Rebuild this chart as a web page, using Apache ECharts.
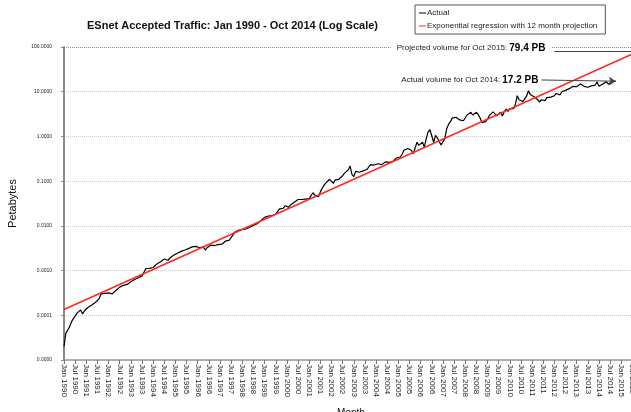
<!DOCTYPE html>
<html>
<head>
<meta charset="utf-8">
<script src="https://cdn.jsdelivr.net/npm/echarts@6/dist/echarts.min.js"></script>
<style>
  html, body { margin: 0; padding: 0; background: #fff; }
  #chart { width: 631px; height: 412px; }
</style>
</head>
<body>
<div id="chart"></div>
<script>
// month names for the category axis (Jan 1990 .. Oct 2015)
var monthNames = ['Jan', 'Feb', 'Mar', 'Apr', 'May', 'Jun', 'Jul', 'Aug', 'Sep', 'Oct', 'Nov', 'Dec']
var firstYear = 1990
var lastYear = 2015
var lastMonthOfAxis = 9 // Oct 2015

// monthly accepted traffic, petabytes, Jan 1990 - Oct 2014 (one row per year)
var actualPB = [
  0.000020, 0.000040, 0.000047, 0.000055, 0.000071, 0.000083, 0.000096, 0.000112, 0.000120, 0.000132, 0.000107, 0.000126,
  0.000135, 0.000151, 0.000148, 0.000170, 0.000178, 0.000195, 0.000214, 0.000240, 0.000302, 0.000316, 0.000309, 0.000316,
  0.000316, 0.000324, 0.000302, 0.000290, 0.000363, 0.000380, 0.000427, 0.000437, 0.000468, 0.000501, 0.000490, 0.000537,
  0.000562, 0.000590, 0.000631, 0.000650, 0.000692, 0.000741, 0.000760, 0.000813, 0.00110, 0.00115, 0.00112, 0.00107,
  0.00117, 0.00129, 0.00141, 0.00151, 0.00158, 0.00170, 0.00182, 0.00186, 0.00170, 0.00191, 0.00204, 0.00219,
  0.00229, 0.00245, 0.00263, 0.00269, 0.00275, 0.00288, 0.00295, 0.00309, 0.00324, 0.00339, 0.00339, 0.00347,
  0.00331, 0.00324, 0.00355, 0.00339, 0.00288, 0.00324, 0.00355, 0.00372, 0.00380, 0.00363, 0.00355, 0.00380,
  0.00372, 0.00389, 0.00417, 0.00457, 0.00468, 0.00479, 0.00550, 0.00631, 0.00724, 0.00794, 0.00794, 0.00776,
  0.00832, 0.00871, 0.00851, 0.00871, 0.00933, 0.00977, 0.0102, 0.0107, 0.0112, 0.0123, 0.0132, 0.0145,
  0.0155, 0.0158, 0.0166, 0.0174, 0.0170, 0.0174, 0.0182, 0.0191, 0.0240, 0.0251, 0.0245, 0.0282,
  0.0269, 0.0263, 0.0295, 0.0309, 0.0339, 0.0363, 0.0389, 0.0355, 0.0389, 0.0407, 0.0398, 0.0389,
  0.0407, 0.0427, 0.0550, 0.0490, 0.0468, 0.0447, 0.0575, 0.0692, 0.0813, 0.0912, 0.100, 0.110,
  0.115, 0.0891, 0.107, 0.102, 0.110, 0.120, 0.132, 0.151, 0.162, 0.178, 0.219, 0.141,
  0.126, 0.166, 0.151, 0.158, 0.174, 0.170, 0.166, 0.182, 0.195, 0.234, 0.245, 0.229,
  0.224, 0.245, 0.240, 0.234, 0.257, 0.269, 0.251, 0.263, 0.288, 0.275, 0.302, 0.331,
  0.339, 0.347, 0.398, 0.490, 0.525, 0.537, 0.513, 0.490, 0.407, 0.407, 0.741, 0.631,
  0.676, 0.741, 0.575, 0.891, 1.26, 1.41, 1.55, 0.741, 1.05, 0.933, 0.759, 0.646,
  0.692, 0.891, 1.48, 1.86, 2.14, 2.57, 2.63, 2.69, 2.51, 2.34, 2.14, 2.24,
  2.29, 3.02, 3.31, 3.47, 3.02, 3.31, 3.47, 3.09, 2.57, 2.04, 1.86, 2.14,
  2.45, 2.95, 3.16, 3.55, 3.24, 2.88, 3.16, 3.47, 2.88, 3.55, 4.07, 3.63,
  4.17, 3.80, 4.17, 5.25, 8.13, 6.61, 7.08, 6.03, 6.31, 7.94, 10.5, 8.71,
  8.13, 7.76, 7.41, 6.61, 5.89, 6.61, 6.46, 6.31, 7.41, 7.08, 7.59, 8.32,
  8.13, 9.12, 8.91, 8.51, 10.0, 10.5, 10.7, 11.5, 11.7, 12.0, 13.2, 12.6,
  12.9, 14.1, 14.8, 13.8, 13.2, 13.5, 12.6, 12.9, 13.5, 13.2, 14.1, 16.6,
  13.2, 14.1, 14.8, 15.8, 16.6, 14.8, 15.8, 16.6, 16.2, 17.2
]

// exponential regression end points (straight on log scale), with 12 month projection
var regressionMonths = ['Jan 1990', 'Oct 2015']
var regressionPB = [0.000134, 79.4]

// annotations
var actualLast = 17.2
var projectedLast = 79.4

// y range (decades)
var yMin = 0.00001
var yMax = 100

var months = []
for (var y = firstYear; y <= lastYear; y++) {
  monthNames.forEach(function (n, i) {
    if (y < lastYear || i <= lastMonthOfAxis) months.push(n + ' ' + y)
  })
}

var chart = echarts.init(document.getElementById('chart'))

var option = {
  animation: false,
  backgroundColor: '#fff',
  textStyle: { fontFamily: 'Liberation Sans, Arial, sans-serif' },
  title: {
    text: 'ESnet Accepted Traffic: Jan 1990 - Oct 2014 (Log Scale)',
    left: 82,
    top: 15,
    textStyle: { fontSize: 11, fontWeight: 'bold', color: '#111' }
  },
  legend: {
    left: 415,
    top: 5,
    orient: 'vertical',
    icon: 'rect',
    itemWidth: 7,
    itemHeight: 1,
    itemGap: 5,
    padding: [4, 8, 4, 4],
    borderColor: '#555',
    borderWidth: 1,
    textStyle: { fontSize: 8, color: '#222', padding: [0, 0, 0, -4] },
    data: ['Actual', 'Exponential regression with 12 month projection']
  },
  grid: {
    left: 64,
    top: 47,
    width: 574,
    height: 313,
    outerBoundsMode: 'none'
  },
  xAxis: {
    type: 'category',
    data: months,
    boundaryGap: false,
    name: 'Month',
    nameLocation: 'middle',
    nameGap: 48,
    nameTextStyle: { fontSize: 10, color: '#111' },
    axisLine: { lineStyle: { color: '#999', width: 1.5 } },
    axisTick: { interval: 5, length: 4, lineStyle: { color: '#777' } },
    axisLabel: { interval: 5, rotate: -90, fontSize: 8, color: '#222', margin: 4, hideOverlap: false },
    splitLine: { show: false }
  },
  yAxis: {
    type: 'log',
    logBase: 10,
    min: yMin,
    max: yMax,
    name: 'Petabytes',
    nameLocation: 'middle',
    nameGap: 46,
    nameTextStyle: { fontSize: 11, color: '#111' },
    axisLine: { show: true, lineStyle: { color: '#888', width: 2 } },
    axisTick: { show: true, length: 3, lineStyle: { color: '#888' } },
    axisLabel: {
      fontSize: 5,
      color: '#222',
      margin: 12,
      formatter: function (v) { return v.toFixed(4) }
    },
    splitLine: {
      show: true,
      lineStyle: { type: 'dotted', color: ['#ccc', '#ccc', '#ccc', '#ccc', '#ccc', '#ccc', '#ccc', '#888'] }
    }
  },
  series: [
    {
      name: 'Actual',
      type: 'line',
      data: actualPB,
      showSymbol: false,
      symbol: 'none',
      color: '#000',
      lineStyle: { color: '#000', width: 1.2 },
      z: 3,
      markLine: {
        silent: true,
        symbol: ['none', 'arrow'],
        symbolSize: 7,
        lineStyle: { color: '#444', width: 1, type: 'solid' },
        label: {
          position: 'start',
          distance: 3,
          formatter: '{a|Actual volume for Oct 2014: }{b|' + actualLast + ' PB}',
          rich: {
            a: { fontSize: 8, color: '#222' },
            b: { fontSize: 10, fontWeight: 'bold', color: '#000' }
          }
        },
        data: [[{ coord: ['Jun 2011', 18.3] }, { coord: ['Oct 2014', actualLast] }]]
      }
    },
    {
      name: 'Exponential regression with 12 month projection',
      type: 'line',
      data: regressionMonths.map(function (m, i) { return [m, regressionPB[i]] }),
      showSymbol: false,
      symbol: 'none',
      color: '#ff2a1a',
      lineStyle: { color: '#ff2a1a', width: 1.6 },
      z: 4,
      markLine: {
        silent: true,
        symbol: ['none', 'arrow'],
        symbolSize: 7,
        lineStyle: { color: '#444', width: 1, type: 'solid' },
        label: {
          position: 'start',
          distance: 3,
          backgroundColor: '#fff',
          padding: [0, 6, 7, 6],
          formatter: '{a|Projected volume for Oct 2015: }{b|' + projectedLast + ' PB}',
          rich: {
            a: { fontSize: 8, color: '#222' },
            b: { fontSize: 10, fontWeight: 'bold', color: '#000' }
          }
        },
        data: [[{ coord: ['Jan 2012', projectedLast] }, { coord: ['Oct 2015', projectedLast] }]]
      }
    }
  ]
}

chart.setOption(option)
</script>
</body>
</html>
